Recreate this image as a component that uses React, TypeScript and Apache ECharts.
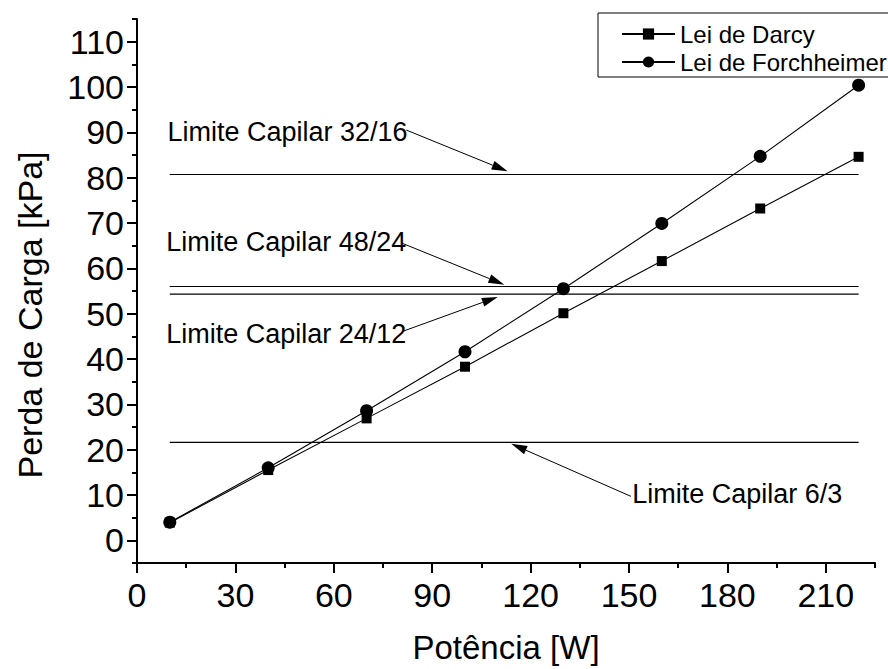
import React, { useEffect, useRef } from 'react';
import * as echarts from 'echarts';

const FONT = "'Liberation Sans', Arial, Helvetica, sans-serif";

// Potência aplicada [W]
const potencia = [10, 40, 70, 100, 130, 160, 190, 220];
// Perda de carga [kPa]
const leiDarcy = [3.9, 15.5, 26.9, 38.3, 50.1, 61.6, 73.2, 84.6];
const leiForchheimer = [4.0, 16.0, 28.6, 41.6, 55.5, 69.9, 84.7, 100.4];

// Limites capilares (linhas horizontais)
const limiteNomes = ['Limite Capilar 32/16', 'Limite Capilar 48/24', 'Limite Capilar 24/12', 'Limite Capilar 6/3'];
const limiteValores = [80.7, 56.0, 54.3, 21.6];
const limiteFaixa = [10, 220];

// Rótulos dos limites: posição do texto e seta (origem -> ponta), em unidades dos eixos
const rotuloPos = [[9.3, 90.0], [8.9, 65.8], [8.9, 45.6], [151.0, 10.3]];
const setaDe = [[82.1, 90.5], [80.6, 65.6], [81.0, 46.1], [150.6, 9.7]];
const setaPara = [[113.0, 81.4], [112.0, 56.4], [110.0, 53.7], [114.1, 21.3]];

// Marcas dos eixos
const xMaior = [0, 30, 60, 90, 120, 150, 180, 210];
const xMenor = [15, 45, 75, 105, 135, 165, 195, 225];
const yMaior = [0, 10, 20, 30, 40, 50, 60, 70, 80, 90, 100, 110];
const yMenor = [-5, 5, 15, 25, 35, 45, 55, 65, 75, 85, 95, 105, 115];

const preto = '#000';
const linhaEixo = { color: preto, width: 2 };

export default function App() {
  const ref = useRef<HTMLDivElement>(null);

  useEffect(() => {
    if (!ref.current) return;
    const chart = echarts.init(ref.current, undefined, { renderer: 'svg' });

    const serieLimites = limiteValores.map((v) => ({
      type: 'line',
      silent: true,
      symbol: 'none',
      xAxisIndex: 0,
      yAxisIndex: 0,
      lineStyle: { color: preto, width: 1.1 },
      data: [[limiteFaixa[0], v], [limiteFaixa[1], v]],
      z: 2,
    }));

    const anotacoes = rotuloPos.map((p, i) => [p[0], p[1], setaDe[i][0], setaDe[i][1], setaPara[i][0], setaPara[i][1]]);

    const option: any = {
      animation: false,
      backgroundColor: '#fff',
      grid: { left: 137, top: 19, width: 738, height: 544, containLabel: false, outerBoundsMode: 'none' },
      legend: {
        orient: 'vertical',
        left: 598,
        top: 13,
        padding: [9, 40, 3, 23],
        itemGap: 4,
        itemWidth: 53,
        itemHeight: 14,
        borderColor: preto,
        borderWidth: 1,
        borderRadius: 0,
        textStyle: { fontSize: 24, fontFamily: FONT, color: preto },
        data: ['Lei de Darcy', 'Lei de Forchheimer'],
      },
      xAxis: [
        {
          type: 'value',
          min: 0,
          max: 225,
          position: 'bottom',
          name: 'Potência [W]',
          nameLocation: 'middle',
          nameGap: 68,
          nameTextStyle: { fontSize: 33, fontFamily: FONT, color: preto },
          axisLine: { show: true, onZero: false, lineStyle: linhaEixo },
          axisTick: { show: true, customValues: xMaior, length: 10, lineStyle: linhaEixo },
          axisLabel: { customValues: xMaior, fontSize: 34, fontFamily: FONT, color: preto, margin: 15 },
          splitLine: { show: false },
        },
        {
          type: 'value',
          min: 0,
          max: 225,
          position: 'bottom',
          axisLine: { show: false, onZero: false },
          axisTick: { show: true, customValues: xMenor, length: 5, lineStyle: linhaEixo },
          axisLabel: { show: false },
          splitLine: { show: false },
        },
      ],
      yAxis: [
        {
          type: 'value',
          min: -5,
          max: 115,
          position: 'left',
          name: 'Perda de Carga [kPa]',
          nameLocation: 'middle',
          nameGap: 90,
          nameRotate: 90,
          nameTextStyle: { fontSize: 34, fontFamily: FONT, color: preto, padding: [0, 48, 0, 0] },
          axisLine: { show: true, onZero: false, lineStyle: linhaEixo },
          axisTick: { show: true, customValues: yMaior, length: 10, lineStyle: linhaEixo },
          axisLabel: { customValues: yMaior, fontSize: 34, fontFamily: FONT, color: preto, margin: 13 },
          splitLine: { show: false },
        },
        {
          type: 'value',
          min: -5,
          max: 115,
          position: 'left',
          axisLine: { show: false, onZero: false },
          axisTick: { show: true, customValues: yMenor, length: 5, lineStyle: linhaEixo },
          axisLabel: { show: false },
          splitLine: { show: false },
        },
      ],
      series: [
        ...serieLimites,
        {
          type: 'custom',
          silent: true,
          xAxisIndex: 0,
          yAxisIndex: 0,
          clip: false,
          z: 3,
          data: anotacoes,
          renderItem: (params: any, api: any) => {
            const i = params.dataIndex;
            const t = api.coord([api.value(0), api.value(1)]);
            const a = api.coord([api.value(2), api.value(3)]);
            const b = api.coord([api.value(4), api.value(5)]);
            const dx = b[0] - a[0];
            const dy = b[1] - a[1];
            const len = Math.hypot(dx, dy) || 1;
            const ux = dx / len;
            const uy = dy / len;
            const L = 16;
            const W = 4.5;
            const base = [b[0] - ux * L, b[1] - uy * L];
            return {
              type: 'group',
              children: [
                {
                  type: 'text',
                  x: t[0],
                  y: t[1],
                  style: {
                    text: limiteNomes[i],
                    fontSize: 27,
                    fontFamily: FONT,
                    fill: preto,
                    align: 'left',
                    verticalAlign: 'middle',
                  },
                },
                {
                  type: 'line',
                  shape: { x1: a[0], y1: a[1], x2: base[0], y2: base[1] },
                  style: { stroke: preto, lineWidth: 1 },
                },
                {
                  type: 'polygon',
                  shape: {
                    points: [
                      [b[0], b[1]],
                      [base[0] - uy * W, base[1] + ux * W],
                      [base[0] + uy * W, base[1] - ux * W],
                    ],
                  },
                  style: { fill: preto },
                },
              ],
            };
          },
        },
        {
          name: 'Lei de Darcy',
          type: 'line',
          xAxisIndex: 0,
          yAxisIndex: 0,
          symbol: 'rect',
          symbolSize: 10,
          itemStyle: { color: preto },
          lineStyle: { color: preto, width: 1.1 },
          data: potencia.map((x, i) => [x, leiDarcy[i]]),
          z: 5,
        },
        {
          name: 'Lei de Forchheimer',
          type: 'line',
          xAxisIndex: 0,
          yAxisIndex: 0,
          symbol: 'circle',
          symbolSize: 13,
          itemStyle: { color: preto },
          lineStyle: { color: preto, width: 1.1 },
          data: potencia.map((x, i) => [x, leiForchheimer[i]]),
          z: 5,
        },
      ],
    };

    chart.setOption(option);
    return () => chart.dispose();
  }, []);

  return (
    <div
      ref={ref}
      style={{ position: 'fixed', left: 0, top: 0, width: 888, height: 669, background: '#fff' }}
    />
  );
}
